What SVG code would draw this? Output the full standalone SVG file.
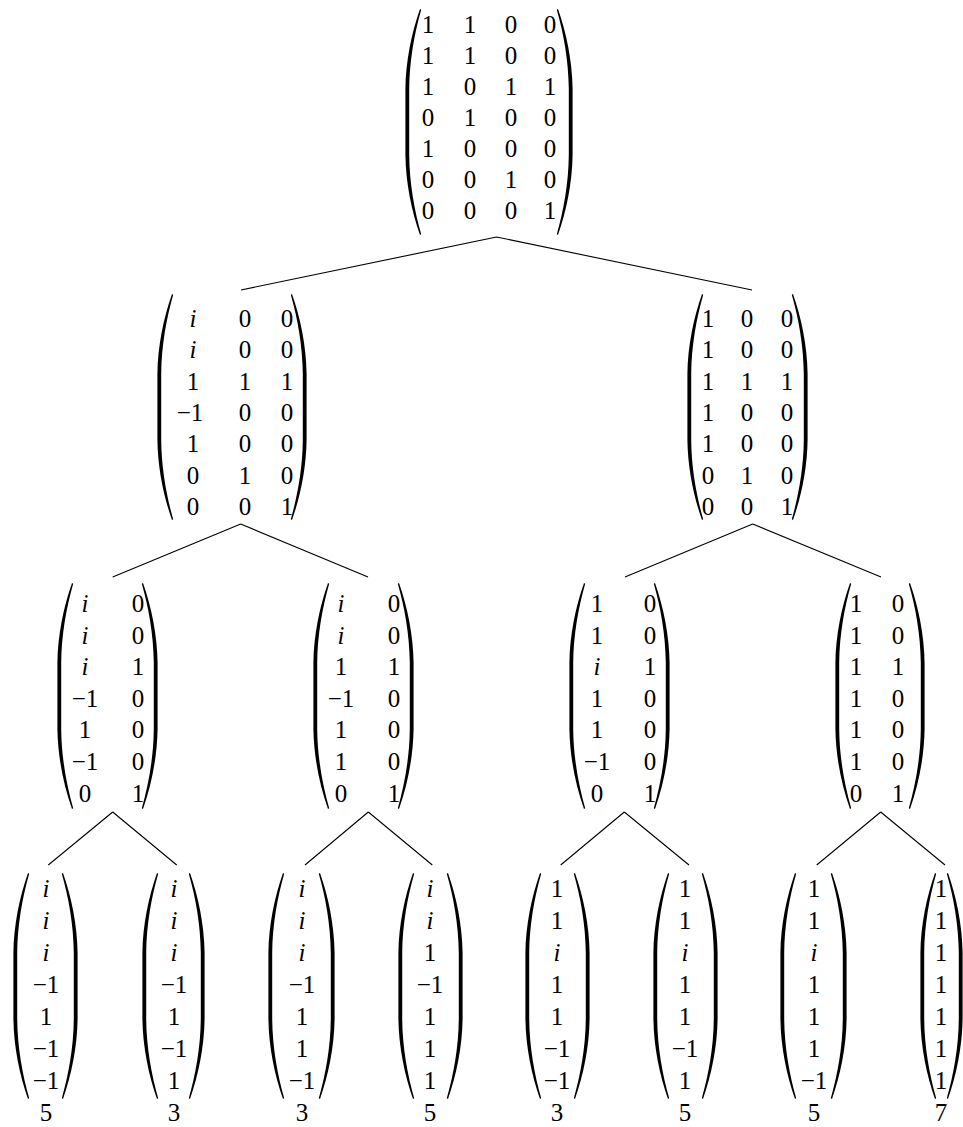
<svg xmlns="http://www.w3.org/2000/svg" xmlns:xlink="http://www.w3.org/1999/xlink" width="963" height="1127" viewBox="0 0 963 1127">
<style>
.t{font-family:"Liberation Serif","Times New Roman",serif;font-size:25px;text-anchor:middle;fill:#000}
.i{font-style:italic}
.e{stroke:#000;stroke-width:1.1;fill:none}
</style>
<defs>
<path id="lp" d="M15,0 C6.5,24 0.8,52 0.4,80 L0.4,146 C0.8,174 6.5,202 15,226 L16.2,225.2 C9.5,202 4.4,174 4.2,146 L4.2,80 C4.4,52 9.5,24 16.2,0.8 Z" fill="#000"/>
</defs>
<rect width="963" height="1127" fill="#fff"/>
<g id="edges">
<path class="e" d="M496.5,237 L241,290 M496.5,237 L752,290"/>
<path class="e" d="M240.7,524 L112.7,577 M240.7,524 L368,577"/>
<path class="e" d="M752.7,524 L625,577 M752.7,524 L881,577"/>
<path class="e" d="M112.7,812 L48.3,865 M112.7,812 L176.7,865"/>
<path class="e" d="M368.3,812 L305,865 M368.3,812 L432.3,865"/>
<path class="e" d="M624.3,812 L560.7,865 M624.3,812 L689,865"/>
<path class="e" d="M880.7,812 L816.7,865 M880.7,812 L945,865"/>
</g>
<g id="n0" class="t">
<use xlink:href="#lp" transform="translate(405,9)"/>
<use xlink:href="#lp" transform="translate(573,9) scale(-1,1)"/>
<text y="33"><tspan x="428">1</tspan><tspan x="470">1</tspan><tspan x="511">0</tspan><tspan x="550">0</tspan></text>
<text y="64"><tspan x="428">1</tspan><tspan x="470">1</tspan><tspan x="511">0</tspan><tspan x="550">0</tspan></text>
<text y="95"><tspan x="428">1</tspan><tspan x="470">0</tspan><tspan x="511">1</tspan><tspan x="550">1</tspan></text>
<text y="126"><tspan x="428">0</tspan><tspan x="470">1</tspan><tspan x="511">0</tspan><tspan x="550">0</tspan></text>
<text y="157"><tspan x="428">1</tspan><tspan x="470">0</tspan><tspan x="511">0</tspan><tspan x="550">0</tspan></text>
<text y="188"><tspan x="428">0</tspan><tspan x="470">0</tspan><tspan x="511">1</tspan><tspan x="550">0</tspan></text>
<text y="219"><tspan x="428">0</tspan><tspan x="470">0</tspan><tspan x="511">0</tspan><tspan x="550">1</tspan></text>
</g>
<g id="n1" class="t">
<use xlink:href="#lp" transform="translate(157,294)"/>
<use xlink:href="#lp" transform="translate(307,294) scale(-1,1)"/>
<text y="327"><tspan x="193" class="i">i</tspan><tspan x="245">0</tspan><tspan x="287">0</tspan></text>
<text y="358.3"><tspan x="193" class="i">i</tspan><tspan x="245">0</tspan><tspan x="287">0</tspan></text>
<text y="389.6"><tspan x="193">1</tspan><tspan x="245">1</tspan><tspan x="287">1</tspan></text>
<text y="420.9"><tspan x="190">−1</tspan><tspan x="245">0</tspan><tspan x="287">0</tspan></text>
<text y="452.2"><tspan x="193">1</tspan><tspan x="245">0</tspan><tspan x="287">0</tspan></text>
<text y="483.5"><tspan x="193">0</tspan><tspan x="245">1</tspan><tspan x="287">0</tspan></text>
<text y="514.8"><tspan x="193">0</tspan><tspan x="245">0</tspan><tspan x="287">1</tspan></text>
</g>
<g id="n2" class="t">
<use xlink:href="#lp" transform="translate(687,294)"/>
<use xlink:href="#lp" transform="translate(808,294) scale(-1,1)"/>
<text y="327"><tspan x="708">1</tspan><tspan x="747">0</tspan><tspan x="787">0</tspan></text>
<text y="358.3"><tspan x="708">1</tspan><tspan x="747">0</tspan><tspan x="787">0</tspan></text>
<text y="389.6"><tspan x="708">1</tspan><tspan x="747">1</tspan><tspan x="787">1</tspan></text>
<text y="420.9"><tspan x="708">1</tspan><tspan x="747">0</tspan><tspan x="787">0</tspan></text>
<text y="452.2"><tspan x="708">1</tspan><tspan x="747">0</tspan><tspan x="787">0</tspan></text>
<text y="483.5"><tspan x="708">0</tspan><tspan x="747">1</tspan><tspan x="787">0</tspan></text>
<text y="514.8"><tspan x="708">0</tspan><tspan x="747">0</tspan><tspan x="787">1</tspan></text>
</g>
<g id="n3" class="t">
<use xlink:href="#lp" transform="translate(57,583)"/>
<use xlink:href="#lp" transform="translate(158,583) scale(-1,1)"/>
<text y="612"><tspan x="85" class="i">i</tspan><tspan x="138">0</tspan></text>
<text y="643.6"><tspan x="85" class="i">i</tspan><tspan x="138">0</tspan></text>
<text y="675.2"><tspan x="85" class="i">i</tspan><tspan x="138">1</tspan></text>
<text y="706.8"><tspan x="85">−1</tspan><tspan x="138">0</tspan></text>
<text y="738.4"><tspan x="85">1</tspan><tspan x="138">0</tspan></text>
<text y="770"><tspan x="85">−1</tspan><tspan x="138">0</tspan></text>
<text y="801.6"><tspan x="85">0</tspan><tspan x="138">1</tspan></text>
</g>
<g id="n4" class="t">
<use xlink:href="#lp" transform="translate(313,583)"/>
<use xlink:href="#lp" transform="translate(414,583) scale(-1,1)"/>
<text y="612"><tspan x="341" class="i">i</tspan><tspan x="394">0</tspan></text>
<text y="643.6"><tspan x="341" class="i">i</tspan><tspan x="394">0</tspan></text>
<text y="675.2"><tspan x="341">1</tspan><tspan x="394">1</tspan></text>
<text y="706.8"><tspan x="341">−1</tspan><tspan x="394">0</tspan></text>
<text y="738.4"><tspan x="341">1</tspan><tspan x="394">0</tspan></text>
<text y="770"><tspan x="341">1</tspan><tspan x="394">0</tspan></text>
<text y="801.6"><tspan x="341">0</tspan><tspan x="394">1</tspan></text>
</g>
<g id="n5" class="t">
<use xlink:href="#lp" transform="translate(569,583)"/>
<use xlink:href="#lp" transform="translate(670,583) scale(-1,1)"/>
<text y="612"><tspan x="597">1</tspan><tspan x="650">0</tspan></text>
<text y="643.6"><tspan x="597">1</tspan><tspan x="650">0</tspan></text>
<text y="675.2"><tspan x="597" class="i">i</tspan><tspan x="650">1</tspan></text>
<text y="706.8"><tspan x="597">1</tspan><tspan x="650">0</tspan></text>
<text y="738.4"><tspan x="597">1</tspan><tspan x="650">0</tspan></text>
<text y="770"><tspan x="597">−1</tspan><tspan x="650">0</tspan></text>
<text y="801.6"><tspan x="597">0</tspan><tspan x="650">1</tspan></text>
</g>
<g id="n6" class="t">
<use xlink:href="#lp" transform="translate(835,583)"/>
<use xlink:href="#lp" transform="translate(925,583) scale(-1,1)"/>
<text y="612"><tspan x="856">1</tspan><tspan x="898">0</tspan></text>
<text y="643.6"><tspan x="856">1</tspan><tspan x="898">0</tspan></text>
<text y="675.2"><tspan x="856">1</tspan><tspan x="898">1</tspan></text>
<text y="706.8"><tspan x="856">1</tspan><tspan x="898">0</tspan></text>
<text y="738.4"><tspan x="856">1</tspan><tspan x="898">0</tspan></text>
<text y="770"><tspan x="856">1</tspan><tspan x="898">0</tspan></text>
<text y="801.6"><tspan x="856">0</tspan><tspan x="898">1</tspan></text>
</g>
<g id="n7" class="t">
<use xlink:href="#lp" transform="translate(13,873)"/>
<use xlink:href="#lp" transform="translate(78,873) scale(-1,1)"/>
<text x="46" y="897" class="i">i</text><text x="46" y="929" class="i">i</text><text x="46" y="961" class="i">i</text><text x="46" y="993">−1</text><text x="46" y="1025">1</text><text x="46" y="1057">−1</text><text x="46" y="1089">−1</text><text x="46" y="1121">5</text>
</g>
<g id="n8" class="t">
<use xlink:href="#lp" transform="translate(142,873)"/>
<use xlink:href="#lp" transform="translate(205,873) scale(-1,1)"/>
<text x="174" y="897" class="i">i</text><text x="174" y="929" class="i">i</text><text x="174" y="961" class="i">i</text><text x="174" y="993">−1</text><text x="174" y="1025">1</text><text x="174" y="1057">−1</text><text x="174" y="1089">1</text><text x="174" y="1121">3</text>
</g>
<g id="n9" class="t">
<use xlink:href="#lp" transform="translate(268,873)"/>
<use xlink:href="#lp" transform="translate(335,873) scale(-1,1)"/>
<text x="302" y="897" class="i">i</text><text x="302" y="929" class="i">i</text><text x="302" y="961" class="i">i</text><text x="302" y="993">−1</text><text x="302" y="1025">1</text><text x="302" y="1057">1</text><text x="302" y="1089">−1</text><text x="302" y="1121">3</text>
</g>
<g id="n10" class="t">
<use xlink:href="#lp" transform="translate(398,873)"/>
<use xlink:href="#lp" transform="translate(463,873) scale(-1,1)"/>
<text x="430" y="897" class="i">i</text><text x="430" y="929" class="i">i</text><text x="430" y="961">1</text><text x="430" y="993">−1</text><text x="430" y="1025">1</text><text x="430" y="1057">1</text><text x="430" y="1089">1</text><text x="430" y="1121">5</text>
</g>
<g id="n11" class="t">
<use xlink:href="#lp" transform="translate(525,873)"/>
<use xlink:href="#lp" transform="translate(590,873) scale(-1,1)"/>
<text x="557" y="897">1</text><text x="557" y="929">1</text><text x="557" y="961" class="i">i</text><text x="557" y="993">1</text><text x="557" y="1025">1</text><text x="557" y="1057">−1</text><text x="557" y="1089">−1</text><text x="557" y="1121">3</text>
</g>
<g id="n12" class="t">
<use xlink:href="#lp" transform="translate(653,873)"/>
<use xlink:href="#lp" transform="translate(718,873) scale(-1,1)"/>
<text x="685" y="897">1</text><text x="685" y="929">1</text><text x="685" y="961" class="i">i</text><text x="685" y="993">1</text><text x="685" y="1025">1</text><text x="685" y="1057">−1</text><text x="685" y="1089">1</text><text x="685" y="1121">5</text>
</g>
<g id="n13" class="t">
<use xlink:href="#lp" transform="translate(780,873)"/>
<use xlink:href="#lp" transform="translate(847,873) scale(-1,1)"/>
<text x="814" y="897">1</text><text x="814" y="929">1</text><text x="814" y="961" class="i">i</text><text x="814" y="993">1</text><text x="814" y="1025">1</text><text x="814" y="1057">1</text><text x="814" y="1089">−1</text><text x="814" y="1121">5</text>
</g>
<g id="n14" class="t">
<use xlink:href="#lp" transform="translate(920,873)"/>
<use xlink:href="#lp" transform="translate(963,873) scale(-1,1)"/>
<text x="941" y="897">1</text><text x="941" y="929">1</text><text x="941" y="961">1</text><text x="941" y="993">1</text><text x="941" y="1025">1</text><text x="941" y="1057">1</text><text x="941" y="1089">1</text><text x="941" y="1121">7</text>
</g>
</svg>
